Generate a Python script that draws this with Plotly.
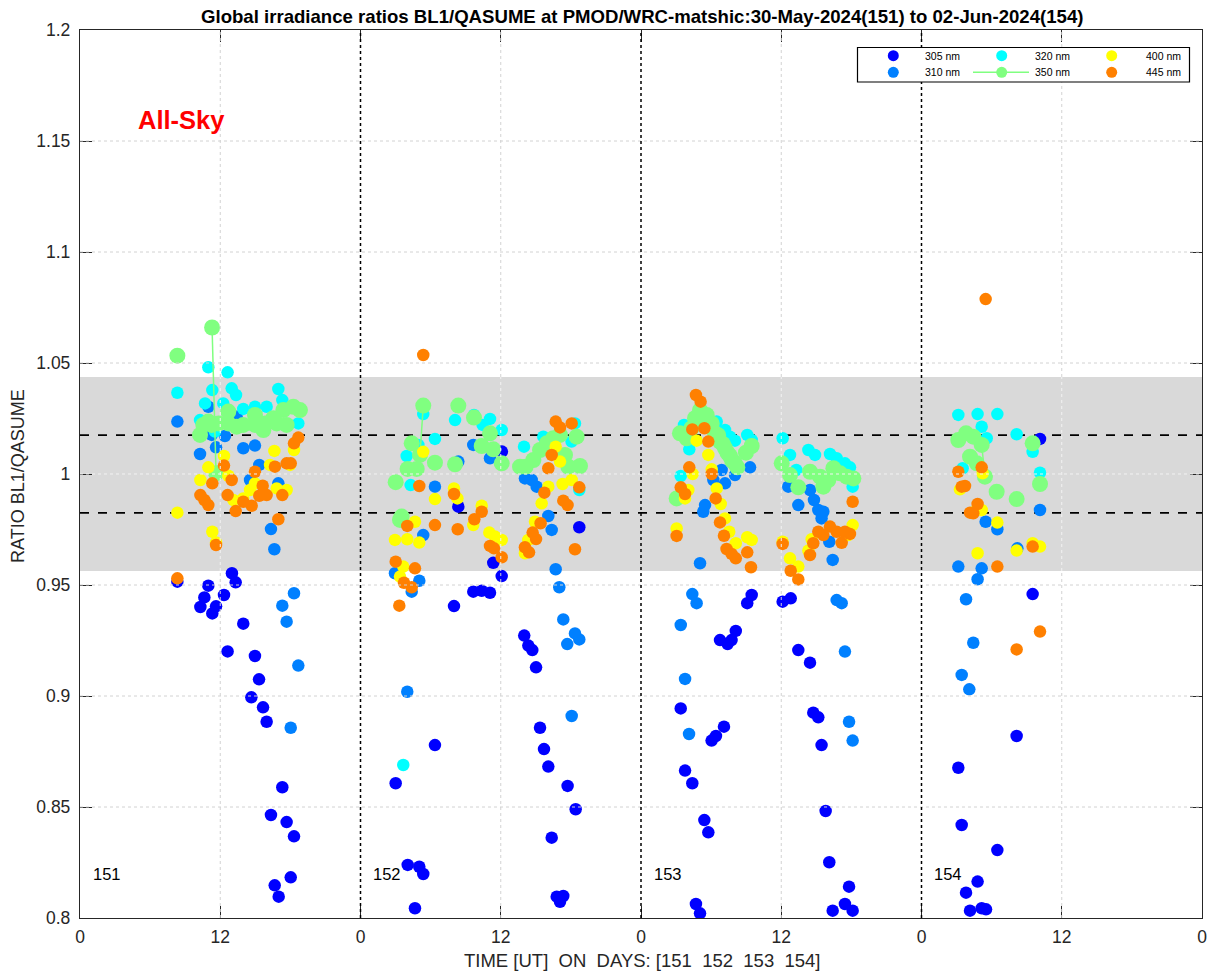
import plotly.graph_objects as go

# ---------------------------------------------------------------------------
# Global irradiance ratios BL1/QASUME, days 151-154 (2024), time in hours UT
# counted from 30-May-2024 00:00 (day 151).
# ---------------------------------------------------------------------------
t305 = [8.33, 10.3, 10.64, 10.98, 11.32, 11.64, 12.32, 12.63, 13.0, 13.32, 13.97, 14.66, 14.97,
        15.32, 15.66, 15.97, 16.34, 16.66, 17.0, 17.31, 17.68, 18.03, 18.31,
        27.01, 28.04, 28.66, 29.03, 29.37, 30.37, 32.0, 32.37, 33.65, 34.37, 35.08, 35.36, 36.08,
        36.1, 38.01, 38.36, 38.7, 39.02, 39.36, 39.7, 40.07, 40.36, 40.79, 41.07, 41.35, 41.72,
        42.41, 42.72,
        51.4, 51.77, 52.39, 52.7, 53.05, 53.42, 53.76, 54.04, 54.41, 54.76, 55.1, 55.41, 55.75,
        56.11, 57.09, 57.47, 60.12, 60.81, 61.46, 62.46, 62.74, 63.17, 63.45, 63.8, 64.11, 64.4,
        65.45, 65.8, 66.11,
        75.15, 75.44, 75.81, 76.15, 76.8, 77.15, 77.52, 78.49, 80.14, 81.51, 82.14]
r305 = [0.9515, 0.9401, 0.9444, 0.9497, 0.9372, 0.9404, 0.9455, 0.9201, 0.9553, 0.9512, 0.9326,
        0.8994, 0.918, 0.9075, 0.8949, 0.8884, 0.8464, 0.8147, 0.8096, 0.8589, 0.8432, 0.8183,
        0.8368,
        0.8607, 0.8239, 0.8044, 0.8231, 0.8198, 0.8779, 0.9405, 0.9853, 0.947, 0.9474, 0.9465,
        0.96, 0.954, 1.0101, 0.9272, 0.9227, 0.9207, 0.9129, 0.8857, 0.8761, 0.8682, 0.8362,
        0.8096, 0.8073, 0.8099, 0.8595, 0.849, 0.976,
        0.8944, 0.8664, 0.8607, 0.8063, 0.8021, 0.8441, 0.8386, 0.8799, 0.882, 0.9252, 0.8862,
        0.9234, 0.9252, 0.9293, 0.9418, 0.9455, 0.9425, 0.944, 0.9207, 0.915, 0.8925, 0.8904,
        0.8779, 0.8482, 0.8251, 0.8033, 0.8063, 0.8141, 0.8033,
        0.8677, 0.8419, 0.8114, 0.8033, 0.8164, 0.8044, 0.8039, 0.8306, 0.882, 0.9459, 1.0158]

t310 = [8.33, 10.27, 10.98, 11.27, 11.64, 12.4, 13.4, 13.97, 14.55, 14.97, 15.34, 16.34, 16.63,
        16.97, 17.31, 17.68, 18.03, 18.31, 18.68,
        26.95, 28.0, 28.38, 29.03, 29.37, 30.37, 32.37, 33.65, 35.08, 38.07, 38.65, 39.07, 40.07,
        40.36, 40.7, 41.01, 41.35, 41.69, 42.07, 42.35, 42.72,
        51.4, 51.77, 52.11, 52.39, 52.76, 53.05, 53.33, 53.48, 54.19, 54.9, 55.19, 56.04, 57.33,
        60.6, 61.46, 62.46, 62.8, 63.17, 63.45, 63.6, 64.11, 64.4, 64.74, 65.17, 65.45, 65.8,
        66.11,
        75.15, 75.44, 75.81, 76.09, 76.43, 76.8, 77.15, 77.49, 78.49, 80.2, 82.14]
r310 = [1.0236, 1.009, 1.0303, 1.0176, 1.012, 1.0171, 1.0258, 1.0116, 0.9973, 1.0128, 1.0041,
        0.9752, 0.9661, 0.9958, 0.9407, 0.9335, 0.8857, 0.9463, 0.9137,
        0.9553, 0.9019, 0.947, 0.9519, 0.9725, 0.9943, 1.0056, 1.0131, 1.0071, 0.998, 0.9973,
        0.9943, 0.9811, 0.9748, 0.9571, 0.949, 0.9345, 0.9234, 0.891, 0.9282, 0.9255,
        0.932, 0.9077, 0.8829, 0.9459, 0.9418, 0.9598, 0.983, 0.986, 0.9973, 1.0018, 0.9958,
        0.9995, 1.003, 0.9943, 0.986, 0.9928, 0.9883, 0.9838, 0.98, 0.983, 0.9695, 0.9613,
        0.9432, 0.9418, 0.92, 0.8884, 0.8799,
        0.9583, 0.9095, 0.9436, 0.903, 0.924, 0.9526, 0.9575, 0.9785, 0.9751, 0.9665, 0.9838]

t320 = [8.33, 10.27, 10.7, 10.98, 11.32, 11.55, 12.26, 12.63, 12.98, 13.35, 13.97, 14.97, 15.97,
        16.97, 17.31, 18.68,
        27.66, 27.95, 28.29, 28.95, 29.37, 30.37, 32.09, 33.71, 34.45, 35.08, 36.08, 37.99, 39.64,
        42.06, 42.35, 42.72,
        51.4, 51.68, 52.13, 54.48, 55.19, 55.61, 56.04, 57.09, 57.47, 60.12, 60.75, 61.29, 62.32,
        62.89, 64.17, 64.74, 65.45, 65.88, 66.11,
        75.15, 75.52, 76.8, 77.15, 77.58, 78.49, 80.14, 81.51, 82.14]
r320 = [1.0366, 1.0243, 1.0318, 1.0481, 1.0378, 1.0191, 1.0318, 1.0458, 1.0386, 1.0356, 1.0293,
        1.0303, 1.0303, 1.0383, 1.0333, 1.0228,
        0.8689, 1.0081, 0.995, 1.0131, 1.027, 1.0158, 1.0243, 1.0266, 1.0221, 1.0248, 1.0198,
        1.0123, 1.0168, 1.0146, 1.0228, 0.9928,
        0.9991, 1.0221, 1.0111, 1.0236, 1.0198, 1.0168, 1.015, 1.0176, 1.0153, 1.0161, 1.0086,
        1.0018, 1.0108, 1.0086, 1.009, 1.0071, 1.0048, 1.003, 0.9943,
        1.0266, 1.0026, 1.027, 1.0213, 1.0161, 1.027, 1.0179, 1.01, 1.0006]

t350 = [8.33, 10.27, 10.55, 10.98, 11.27, 11.3, 11.64, 11.84, 12.69, 12.69, 13.4, 13.97, 14.97,
        14.97, 15.69, 15.83, 16.54, 16.83, 17.4, 17.68, 18.25, 18.82,
        27.01, 27.38, 27.52, 28.03, 28.38, 28.81, 29.09, 29.37, 30.37, 32.09, 32.37, 33.71, 34.37,
        35.08, 35.36, 36.08, 37.65, 38.13, 38.79, 39.36, 39.93, 40.5, 41.07, 41.5, 41.78, 42.49,
        42.78,
        51.05, 51.33, 51.9, 52.3, 52.62, 53.05, 53.3, 53.62, 54.05, 54.33, 54.6, 54.76, 55.0,
        55.19, 55.4, 55.61, 55.8, 56.04, 56.24, 56.98, 57.47, 60.04, 60.75, 61.46, 62.46, 63.32,
        63.6, 64.03, 64.46, 65.03, 65.6, 66.17,
        75.15, 75.81, 76.15, 76.43, 76.73, 77.15, 77.43, 78.43, 80.14, 81.51, 82.14]
r350 = [1.0533, 1.0176, 1.0221, 1.0236, 1.0221, 1.066, 1.0003, 1.0228, 1.0281, 1.0228, 1.0213,
        1.0221, 1.0266, 1.0221, 1.0198, 1.0228, 1.0251, 1.0228, 1.0288, 1.0221, 1.0303, 1.0288,
        0.9963, 0.9793, 0.9808, 1.0023, 1.0138, 1.0023, 1.0086, 1.0308, 1.0051, 1.0044, 1.0308,
        1.0254, 1.0126, 1.0183, 1.0111, 1.0048, 1.0033, 1.0033, 1.0063, 1.0108, 1.0138, 1.0161,
        1.0176, 1.0086, 1.0033, 1.0168, 1.0036,
        0.989, 1.0183, 1.0161, 1.0205, 1.0251, 1.0288, 1.0245, 1.0266, 1.0228, 1.0183, 1.0175,
        1.0146, 1.0135, 1.0116, 1.0095, 1.0081, 1.006, 1.0048, 1.003, 1.0096, 1.0126, 1.0048,
        0.9995, 0.994, 1.001, 0.9988, 0.9943, 0.9973, 1.0026, 1.0003, 0.9988, 0.998,
        1.0153, 1.0183, 1.0078, 1.0168, 1.0048, 1.0131, 0.9988, 0.992, 0.9887, 1.0138, 0.9955]
# consecutive 350 nm samples (index i -> i+1) that are joined by the connecting line
joined350 = [5, 28, 86]

t400 = [8.33, 10.3, 10.98, 11.32, 11.64, 12.32, 12.69, 13.12, 13.97, 14.55, 14.97, 16.26, 16.63,
        16.83, 17.68, 17.97, 18.31,
        26.95, 27.38, 27.66, 28.0, 28.66, 29.03, 29.37, 30.37, 32.0, 32.29, 33.65, 34.37, 35.02,
        35.51, 36.08, 38.07, 38.36, 38.93, 39.5, 40.07, 40.7, 41.07, 41.29, 42.07,
        51.05, 51.77, 52.05, 52.42, 52.76, 53.76, 54.05, 54.48, 54.82, 55.19, 55.55, 56.11, 57.09,
        57.47, 60.12, 60.75, 61.46, 62.32, 62.6, 65.74, 66.11,
        75.29, 76.73, 76.8, 77.15, 77.23, 78.49, 80.14, 81.51, 82.14]
r400 = [0.9826, 0.9973, 1.003, 0.974, 0.9692, 1.0081, 0.9992, 0.9883, 0.989, 0.9928, 0.9958,
        1.0041, 1.0104, 0.9935, 0.9928, 1.0041, 1.0108,
        0.9703, 0.9538, 0.9583, 0.9706, 0.9785, 0.9691, 1.01, 0.9887, 0.9935, 0.989, 0.977,
        0.9857, 0.9736, 0.9718, 0.9703, 0.9643, 0.9703, 0.9785, 0.9868, 0.9943, 1.0123, 1.0056,
        0.9955, 0.9973,
        0.9755, 0.989, 0.9928, 1.0, 1.015, 1.0086, 1.0021, 0.9935, 0.9865, 0.98, 0.974, 0.9688,
        0.9715, 0.9703, 0.9695, 0.962, 0.9583, 0.9655, 0.9706, 0.9725, 0.977,
        0.9931, 0.9841, 0.9643, 0.9838, 1.0003, 0.9781, 0.9655, 0.9688, 0.9673]

t445 = [8.33, 10.3, 10.64, 10.98, 11.32, 11.64, 12.32, 12.63, 12.98, 13.32, 13.97, 14.69, 14.97,
        15.34, 15.63, 15.97, 16.68, 16.97, 17.31, 17.68, 18.03, 18.31, 18.68,
        27.01, 27.32, 27.72, 28.0, 28.38, 28.66, 29.03, 29.37, 30.37, 32.0, 32.32, 33.74, 34.37,
        35.08, 35.42, 36.08, 38.07, 38.42, 38.73, 39.02, 39.41, 39.73, 40.07, 40.36, 40.7, 41.07,
        41.35, 41.72, 42.07, 42.35, 42.72,
        51.05, 51.4, 51.77, 52.13, 52.39, 52.7, 53.1, 53.42, 53.76, 54.05, 54.39, 54.76, 55.1,
        55.32, 55.75, 56.11, 57.09, 57.41, 60.12, 60.81, 61.46, 62.46, 62.74, 63.17, 63.6, 64.17,
        64.74, 65.17, 65.45, 65.88, 66.11,
        75.15, 75.44, 75.72, 76.15, 76.43, 76.8, 77.15, 77.49, 78.49, 80.14, 81.51, 82.14]
r445 = [0.953, 0.9905, 0.9883, 0.986, 0.9958, 0.968, 1.0038, 0.9905, 0.9973, 0.9833, 0.9875,
        0.9857, 1.001, 0.9902, 0.9947, 0.9905, 1.0033, 0.9796, 0.9905, 1.0048, 1.0048, 1.0138,
        1.0164,
        0.9605, 0.9407, 0.951, 0.9766, 0.949, 0.9575, 0.9946, 1.0536, 0.977, 0.991, 0.9751,
        0.9796, 0.983, 0.9676, 0.9665, 0.9625, 0.967, 0.9647, 0.9736, 0.9707, 0.9778, 0.9916,
        1.0026, 1.0086, 1.0236, 1.021, 0.988, 0.986, 1.0228, 0.9661, 0.994,
        0.9721, 0.994, 0.991, 1.003, 1.0201, 1.0356, 1.0326, 1.0206, 1.0146, 1.0, 0.989, 0.9782,
        0.9722, 0.9662, 0.964, 0.962, 0.9647, 0.958, 0.9685, 0.9564, 0.9525, 0.9635, 0.9688,
        0.974, 0.9725, 0.9763, 0.974, 0.969, 0.974, 0.973, 0.9875,
        1.001, 0.9943, 0.9946, 0.9826, 0.9823, 0.9865, 1.003, 1.0788, 0.9583, 0.921, 0.9673,
        0.929]

days = [151, 152, 153, 154]
x_ticks = [0, 12, 24, 36, 48, 60, 72, 84, 96]
x_ticktext = ["0", "12", "0", "12", "0", "12", "0", "12", "0"]
y_ticks = [0.8, 0.85, 0.9, 0.95, 1.0, 1.05, 1.1, 1.15, 1.2]
y_ticktext = ["0.8", "0.85", "0.9", "0.95", "1", "1.05", "1.1", "1.15", "1.2"]
band_limits = [0.9563, 1.0437]   # grey tolerance band
dash_limits = [0.9825, 1.0175]   # inner dashed limits

series = [
    ("305 nm", t305, r305, "#0000ff"),
    ("310 nm", t310, r310, "#0080ff"),
    ("320 nm", t320, r320, "#00ffff"),
    ("350 nm", t350, r350, "#80ff80"),
    ("400 nm", t400, r400, "#ffff00"),
    ("445 nm", t445, r445, "#ff8000"),
]

FONT = "Liberation Sans, Arial, Helvetica, sans-serif"
AX = "#262626"
X0, X1 = 0, 96
Y0, Y1 = 0.8, 1.2

fig = go.Figure()

for name, t, r, col in series:
    if name == "350 nm":
        # break the line between samples that are not consecutive
        xs, ys = [], []
        for i, (ti, ri) in enumerate(zip(t, r)):
            xs.append(ti)
            ys.append(ri)
            if i not in joined350:
                xs.append(None)
                ys.append(None)
        fig.add_trace(go.Scatter(
            x=xs, y=ys, mode="lines+markers", name=name, connectgaps=False,
            line=dict(color=col, width=1.5),
            marker=dict(color=col, size=16, line=dict(width=0)),
            showlegend=False, hoverinfo="x+y"))
    else:
        fig.add_trace(go.Scatter(
            x=t, y=r, mode="markers", name=name,
            marker=dict(color=col, size=12.5, line=dict(width=0)),
            showlegend=False, hoverinfo="x+y"))

shapes = []
# tolerance band and dashed limits (under the data)
shapes.append(dict(type="rect", xref="x", yref="y", x0=X0, x1=X1,
                   y0=band_limits[0], y1=band_limits[1],
                   fillcolor="#d9d9d9", line=dict(width=0), layer="below"))
for yv in dash_limits:
    shapes.append(dict(type="line", xref="x", yref="y", x0=X0, x1=X1, y0=yv, y1=yv,
                       line=dict(color="#000000", width=1.6, dash="dash"), layer="below"))

# dotted grid on top of the markers: pale grey on white, lighter inside the band
GRID_OUT = "#d2d2d2"
GRID_IN = "#f2f2f2"
for yv in y_ticks[1:-1]:
    inside = band_limits[0] < yv < band_limits[1]
    shapes.append(dict(type="line", xref="x", yref="y", x0=X0, x1=X1, y0=yv, y1=yv,
                       line=dict(color=GRID_IN if inside else GRID_OUT, width=1, dash="dot"),
                       layer="above"))
for xv in x_ticks[1:-1]:
    if xv % 24 == 0:
        continue
    for (a, b, c) in [(Y0, band_limits[0], GRID_OUT), (band_limits[0], band_limits[1], GRID_IN),
                      (band_limits[1], Y1, GRID_OUT)]:
        shapes.append(dict(type="line", xref="x", yref="y", x0=xv, x1=xv, y0=a, y1=b,
                           line=dict(color=c, width=1, dash="dot"), layer="above"))
# day separators
for xv in x_ticks[1:-1]:
    if xv % 24 == 0:
        shapes.append(dict(type="line", xref="x", yref="y", x0=xv, x1=xv, y0=Y0, y1=Y1,
                           line=dict(color="#000000", width=1.5, dash="dot"), layer="above"))

# ---- legend box drawn in pixel units, anchored to the top-right of the axes ----
L, R, T, B = 80, 1202, 30, 918


def px(xp):
    return (xp - L) / (R - L)


def py(yp):
    return (B - yp) / (B - T)


annotations = []
shapes.append(dict(type="rect", xref="paper", yref="paper",
                   x0=px(857.5), x1=px(1189.5), y0=py(82), y1=py(47.5),
                   fillcolor="white", line=dict(color="#000000", width=1.2), layer="above"))
leg_cols = [893.3, 1001.7, 1111.7]
leg_text_right = [961.5, 1071.5, 1182.5]
leg_rows = [55.7, 72.3]
leg_order = [0, 2, 4, 1, 3, 5]  # row-major: 305 320 400 / 310 350 445
for k, si in enumerate(leg_order):
    name, _, _, col = series[si]
    row, colm = divmod(k, 3)
    cx, cy = leg_cols[colm], leg_rows[row]
    if name == "350 nm":
        shapes.append(dict(type="line", xref="paper", yref="paper",
                           x0=px(973), x1=px(1029), y0=py(cy), y1=py(cy),
                           line=dict(color=col, width=1.5), layer="above"))
    rad = 5.5
    shapes.append(dict(type="circle", xref="paper", yref="paper",
                       x0=px(cx - rad), x1=px(cx + rad), y0=py(cy + rad), y1=py(cy - rad),
                       fillcolor=col, line=dict(width=0), layer="above"))
    annotations.append(dict(xref="paper", yref="paper", x=px(leg_text_right[colm]), y=py(cy),
                            xanchor="right", yanchor="middle", text=name, showarrow=False,
                            font=dict(family=FONT, size=10.5, color="#000000")))

# day numbers near the bottom of each day
for d in days:
    annotations.append(dict(xref="x", yref="y", x=(d - days[0]) * 24 + 0.9, y=0.8198,
                            xanchor="left", yanchor="middle", text=str(d), showarrow=False,
                            font=dict(family=FONT, size=16.5, color="#000000")))

annotations.append(dict(xref="paper", yref="paper", x=px(136), y=py(120), xanchor="left",
                        yanchor="middle", text="<b>All-Sky</b>", showarrow=False,
                        font=dict(family=FONT, size=25.5, color="#ff0000")))
annotations.append(dict(xref="paper", yref="paper", x=px(642), y=py(961), xanchor="center",
                        yanchor="middle", text="TIME [UT]  ON  DAYS: [151  152  153  154]",
                        showarrow=False, font=dict(family=FONT, size=18.5, color=AX)))
annotations.append(dict(xref="paper", yref="paper", x=px(18), y=py(476), xanchor="center",
                        yanchor="middle", text="RATIO BL1/QASUME", textangle=-90,
                        showarrow=False, font=dict(family=FONT, size=18, color=AX)))
annotations.append(dict(xref="paper", yref="paper", x=px(642), y=py(16), xanchor="center",
                        yanchor="middle",
                        text="<b>Global irradiance ratios BL1/QASUME at PMOD/WRC-matshic:"
                             "30-May-2024(151) to 02-Jun-2024(154)</b>",
                        showarrow=False, font=dict(family=FONT, size=18.6, color="#000000")))

axis_common = dict(showline=True, linecolor=AX, linewidth=1.3, mirror="allticks",
                   ticks="inside", ticklen=12, tickwidth=1.3, tickcolor=AX,
                   showgrid=False, zeroline=False, fixedrange=True,
                   tickfont=dict(family=FONT, size=17.5, color=AX))

fig.update_layout(
    width=1220, height=980,
    margin=dict(l=L, r=1220 - R, t=T, b=980 - B, autoexpand=False),
    paper_bgcolor="white", plot_bgcolor="white",
    showlegend=False,
    shapes=shapes, annotations=annotations,
    xaxis=dict(range=[X0, X1], tickvals=x_ticks, ticktext=x_ticktext,
               ticklabelstandoff=3, **axis_common),
    yaxis=dict(range=[Y0, Y1], tickvals=y_ticks, ticktext=y_ticktext,
               ticklabelstandoff=5, **axis_common),
)

fig.write_html("out.html")
